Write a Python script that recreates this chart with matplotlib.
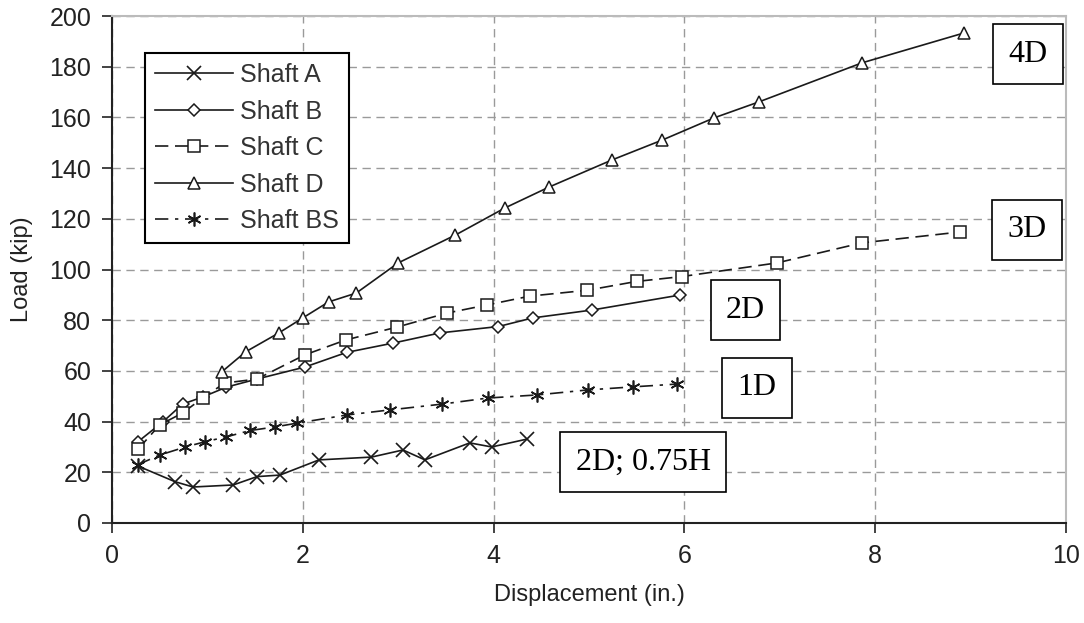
import matplotlib
matplotlib.use("Agg")
import matplotlib.pyplot as plt

# load-displacement data
shaft_a_x = [0.27, 0.66, 0.85, 1.27, 1.52, 1.76, 2.17, 2.72, 3.05, 3.28, 3.75, 3.98, 4.35]
shaft_a_y = [22.5, 16.3, 14.2, 15.0, 18.3, 18.9, 24.9, 26.0, 28.8, 24.9, 31.6, 30.0, 33.1]

shaft_b_x = [0.27, 0.53, 0.74, 0.95, 1.20, 1.52, 2.02, 2.46, 2.95, 3.44, 4.05, 4.41, 5.03, 5.95]
shaft_b_y = [32.0, 39.8, 46.9, 49.7, 53.6, 56.8, 61.5, 67.3, 71.0, 75.0, 77.5, 80.9, 84.0, 89.9]

shaft_c_x = [0.27, 0.50, 0.74, 0.95, 1.18, 1.52, 2.02, 2.45, 2.99, 3.51, 3.93, 4.38, 4.98, 5.50, 5.97, 6.97, 7.86, 8.89]
shaft_c_y = [29.0, 38.7, 43.4, 49.3, 55.2, 56.8, 66.3, 72.2, 77.3, 82.8, 86.0, 89.5, 91.8, 95.3, 97.2, 102.6, 110.5, 114.8]

shaft_d_x = [1.15, 1.40, 1.75, 2.00, 2.27, 2.56, 3.00, 3.60, 4.12, 4.58, 5.24, 5.77, 6.31, 6.78, 7.86, 8.93]
shaft_d_y = [59.6, 67.5, 75.0, 80.9, 87.2, 90.7, 102.6, 113.6, 124.3, 132.5, 143.2, 151.1, 159.8, 166.1, 181.5, 193.3]

shaft_bs_x = [0.27, 0.50, 0.77, 0.97, 1.20, 1.45, 1.71, 1.94, 2.46, 2.91, 3.46, 3.94, 4.45, 4.99, 5.46, 5.92]
shaft_bs_y = [23.0, 26.8, 30.0, 32.0, 34.0, 36.5, 37.9, 39.4, 42.6, 44.6, 46.9, 49.3, 50.5, 52.5, 53.7, 54.8]

# annotation boxes: label, x, y
box_labels = ["4D", "3D", "2D", "1D", "2D; 0.75H"]
box_x = [9.60, 9.59, 6.64, 6.76, 5.57]
box_y = [185.0, 115.6, 84.0, 53.3, 24.1]

plt.rcParams["font.family"] = ["Liberation Sans", "DejaVu Sans"]

fig = plt.figure(figsize=(10.84, 6.23), dpi=100)
ax = fig.add_axes([112 / 1084, 1 - 523 / 623, 954 / 1084, 507 / 623])

lc = "#1a1a1a"
ax.plot(shaft_a_x, shaft_a_y, color=lc, lw=1.2, marker="x", ms=10, mew=1.2, label="Shaft A")
ax.plot(shaft_b_x, shaft_b_y, color=lc, lw=1.2, marker="D", ms=6, mfc="white", mew=1.1, label="Shaft B")
ax.plot(shaft_c_x, shaft_c_y, color=lc, lw=1.2, ls=(0, (8, 4)), marker="s", ms=8, mfc="white", mew=1.1, label="Shaft C")
ax.plot(shaft_d_x, shaft_d_y, color=lc, lw=1.2, marker="^", ms=9, mfc="white", mew=1.1, label="Shaft D")
ax.plot(shaft_bs_x, shaft_bs_y, color=lc, lw=1.2, ls=(0, (8, 4, 2, 4)), marker=(6, 2, 0), ms=10, mew=1.2, label="Shaft BS")

for lab, x, y in zip(box_labels, box_x, box_y):
    ax.text(x, y, lab, family="Liberation Serif", fontsize=23, ha="center", va="center",
            bbox=dict(boxstyle="square,pad=0.48", fc="white", ec="black", lw=1.2), zorder=5)

ax.set_xlim(0, 10)
ax.set_ylim(0, 200)
ax.set_xticks(range(0, 11, 2))
ax.set_yticks(range(0, 201, 20))
ax.grid(True, color="#9a9a9a", ls=(0, (6, 4)), lw=1)
ax.set_axisbelow(True)

for s in ["left", "bottom"]:
    ax.spines[s].set_color("#222222")
    ax.spines[s].set_linewidth(1.5)
for s in ["top", "right"]:
    ax.spines[s].set_color("#bbbbbb")
    ax.spines[s].set_linewidth(1.5)

ax.tick_params(direction="out", length=7, width=1.2, labelsize=18, pad=8, colors="#222222")
ax.set_xlabel("Displacement (in.)", fontsize=17, labelpad=12, color="#222222")
ax.set_ylabel("Load (kip)", fontsize=17, labelpad=12, color="#222222")

leg = ax.legend(loc="upper left", bbox_to_anchor=(0.035, 0.927), borderaxespad=0,
                fontsize=18, handlelength=3.1, handletextpad=0.3, labelspacing=0.5,
                fancybox=False, framealpha=1, edgecolor="black", borderpad=0.4)
leg.get_frame().set_linewidth(1.5)
for t in leg.get_texts():
    t.set_color("#333333")

fig.savefig("out.png", dpi=100)
